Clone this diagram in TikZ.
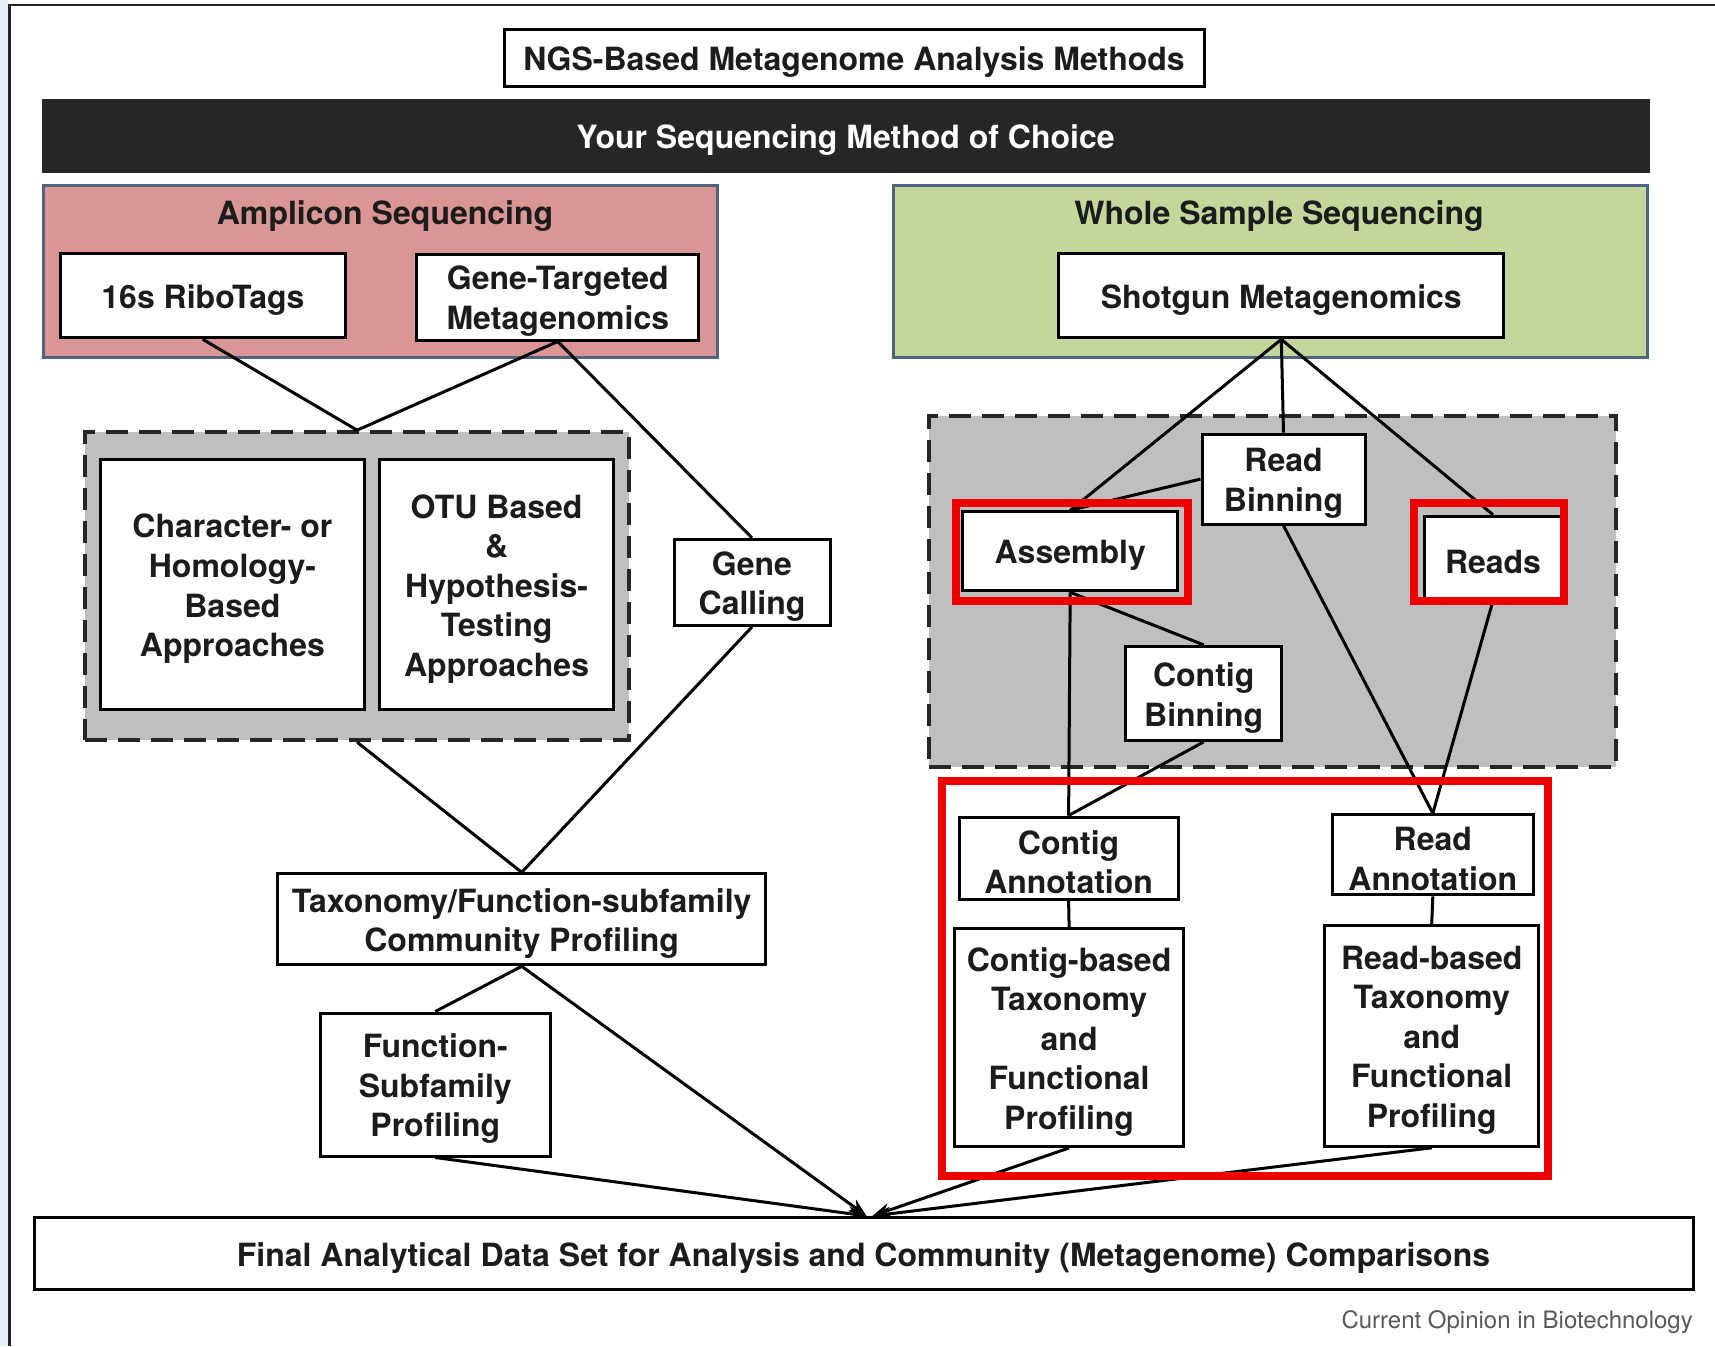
\documentclass[tikz,border=0pt]{standalone}
\usepackage{fontspec}
\setmainfont{TeX Gyre Heros}
\usetikzlibrary{arrows.meta,calc}
\pgfdeclarelayer{groups}
\pgfdeclarelayer{links}
\pgfsetlayers{groups,links,main}
\definecolor{pinkfill}{RGB}{217,150,148}
\definecolor{greenfill}{RGB}{195,214,155}
\definecolor{grayfill}{RGB}{191,191,191}
\definecolor{slateedge}{RGB}{80,100,128}
\definecolor{barfill}{RGB}{38,38,38}
\definecolor{txt}{RGB}{28,28,28}
\definecolor{redframe}{RGB}{236,0,0}
\definecolor{margin}{RGB}{232,240,250}
\begin{document}
\begin{tikzpicture}[x=1pt,y=-1pt,
  boxtext/.style={align=center, inner sep=0pt, text=txt, yshift=-4.4pt,
    font=\fontsize{32}{39.6}\selectfont\bfseries},
  box/.style={draw=black, line width=3pt, fill=white, inner sep=0pt},
  tx/.style={label={[boxtext]center:{#1}}},
  group/.style={draw=slateedge, line width=3pt, inner sep=0pt},
  dashgroup/.style={draw=black!85, line width=4pt, fill=grayfill, dash pattern=on 22pt off 11pt, inner sep=0pt},
  redbox/.style={draw=redframe, line width=8pt, inner sep=0pt},
  conn/.style={draw=black, line width=3pt},
  arr/.style={draw=black, line width=3pt, -{Stealth[length=18pt,width=14pt]}},
  head/.style={text=txt, font=\fontsize{32}{39.6}\selectfont\bfseries, inner sep=0pt}]
\useasboundingbox (0,0) rectangle (1715,1346);

\begin{pgfonlayer}{groups}
\fill[white] (0,0) rectangle (1715,1346);
\fill[margin] (0,0) rectangle (8,1346);
\draw[line width=2.5pt, black!85] (9.5,1346) -- (9.5,5) -- (1715,5);
% sequencing groups
\node[group, fill=pinkfill, minimum width=674pt, minimum height=172pt] (amp) at (380.6,271.8) {};
\node[group, fill=greenfill, minimum width=754pt, minimum height=172pt] (whole) at (1270.4,271.8) {};
% dashed groups
\node[dashgroup, minimum width=544pt, minimum height=308pt] (lgroup) at (357.1,586.2) {};
\node[dashgroup, minimum width=687pt, minimum height=351pt] (rgroup) at (1272,591.2) {};
\end{pgfonlayer}

% title and bar
\node[box, minimum width=700pt, minimum height=57pt, tx={NGS-Based Metagenome Analysis Methods}] (title) at (854,58) {};
\node[fill=barfill, minimum width=1608pt, minimum height=74pt, inner sep=0pt,
  label={[boxtext, text=white]center:{Your Sequencing Method of Choice}}] (bar) at (845.5,135.6) {};

\node[head] (amptitle) at (385,216) {Amplicon Sequencing};
\node[head] (wholetitle) at (1279,216) {Whole Sample Sequencing};

% boxes
\node[box, minimum width=285pt, minimum height=84pt, tx={16s RiboTags}] (ribo) at (202.9,295.9) {};
\node[box, minimum width=282pt, minimum height=86pt, tx={Gene-Targeted\\Metagenomics}] (gtm) at (557.8,297) {};
\node[box, minimum width=445pt, minimum height=84pt, tx={Shotgun Metagenomics}] (shot) at (1281.3,295.9) {};
\node[box, minimum width=264pt, minimum height=250pt, tx={Character- or\\Homology-\\Based\\Approaches}] (chara) at (232.4,584.6) {};
\node[box, minimum width=234pt, minimum height=250pt, tx={OTU Based\\\&\\Hypothesis-\\Testing\\Approaches}] (otu) at (496.6,584.6) {};
\node[box, minimum width=156pt, minimum height=86pt, tx={Gene\\Calling}] (gcall) at (752,582.4) {};
\node[box, minimum width=488pt, minimum height=91pt, tx={Taxonomy/Function-subfamily\\Community Profiling}] (tax) at (521.7,919.3) {};
\node[box, minimum width=230pt, minimum height=143pt, tx={Function-\\Subfamily\\Profiling}] (func) at (435.3,1084.5) {};
\node[box, minimum width=1659pt, minimum height=72pt, tx={Final Analytical Data Set for Analysis and Community (Metagenome) Comparisons}] (final) at (863.5,1253.4) {};
\node[box, minimum width=163pt, minimum height=90pt, tx={Read\\Binning}] (rbin) at (1283.5,479.1) {};
\node[box, minimum width=215pt, minimum height=79pt, tx={Assembly}] (asm) at (1070.2,551.3) {};
\node[box, minimum width=138pt, minimum height=83pt, tx={Reads}] (reads) at (1493,557.7) {};
\node[box, minimum width=156pt, minimum height=94pt, tx={Contig\\Binning}] (cbin) at (1203.7,693.4) {};
\node[box, minimum width=219pt, minimum height=82pt, tx={Contig\\Annotation}] (cann) at (1068.6,858) {};
\node[box, minimum width=201pt, minimum height=80pt, tx={Read\\Annotation}] (rann) at (1432.8,854.8) {};
\node[box, minimum width=229pt, minimum height=218pt, tx={Contig-based\\Taxonomy\\and\\Functional\\Profiling}] (cprof) at (1069.1,1037.4) {};
\node[box, minimum width=214pt, minimum height=221pt, tx={Read-based\\Taxonomy\\and\\Functional\\Profiling}] (rprof) at (1431.7,1035.8) {};

% arrow meeting points on the final box
\coordinate (ltip) at ($(final.north)+(3,0)$);
\coordinate (rtip) at ($(final.north)+(9,0)$);

% connectors, behind the boxes
\begin{pgfonlayer}{links}
\draw[conn] (ribo.south) -- (lgroup.north);
\draw[conn] (gtm.south) -- (lgroup.north);
\draw[conn] (gtm.south) -- (gcall.north);
\draw[conn] (lgroup.south) -- (tax.north);
\draw[conn] (gcall.south) -- (tax.north);
\draw[conn] (tax.south) -- (func.north);
\draw[arr] (tax.south) -- (ltip);
\draw[arr] (func.south) -- (ltip);
\draw[arr] (cprof.south) -- (rtip);
\draw[arr] (rprof.south) -- (rtip);

\draw[conn] (shot.south) -- (asm.north);
\draw[conn] (shot.south) -- (rbin.north);
\draw[conn] (shot.south) -- (reads.north);
\draw[conn] (rbin.west) -- (asm.north);
\draw[conn] (asm.south) -- (cbin.north);
\draw[conn] (asm.south) -- (cann.north);
\draw[conn] (cbin.south) -- (cann.north);
\draw[conn] (rbin.south) -- (rann.north);
\draw[conn] (reads.south) -- (rann.north);
\draw[conn] (cann.south) -- (cprof.north);
\draw[conn] (rann.south) -- (rprof.north);
\end{pgfonlayer}

% red highlight frames
\node[redbox, minimum width=232pt, minimum height=98pt] (asmred) at (1071.9,552.4) {};
\node[redbox, minimum width=150pt, minimum height=98pt] (readsred) at (1489.1,552.4) {};
\node[redbox, minimum width=606pt, minimum height=395pt] (bigred) at (1244.7,978.3) {};

\node[anchor=east, inner sep=0pt, text=black!65, font=\fontsize{24}{27}\selectfont] (credit) at (1693,1322) {Current Opinion in Biotechnology};
\end{tikzpicture}
\end{document}
